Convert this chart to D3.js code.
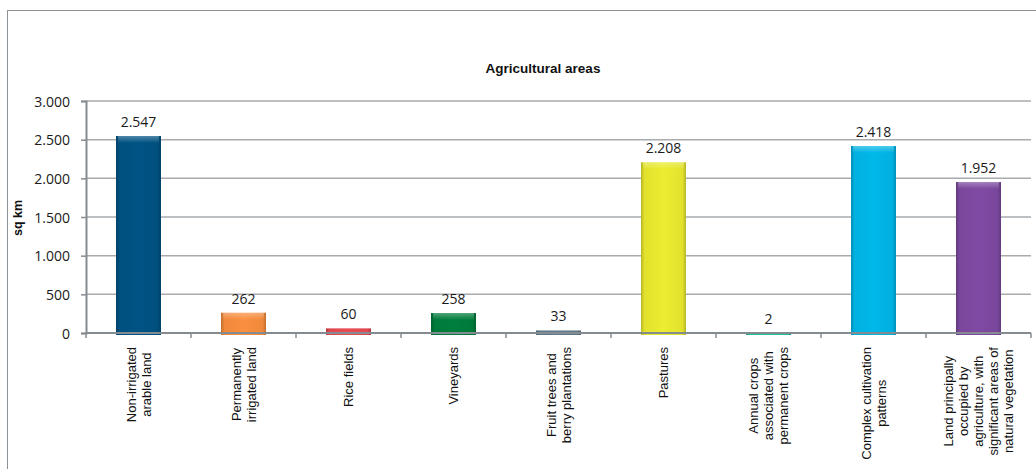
<!DOCTYPE html>
<html><head><meta charset="utf-8">
<script src="https://cdn.jsdelivr.net/npm/d3@7/dist/d3.min.js"></script>
<style>
html,body{margin:0;padding:0;background:#fff;}
svg{display:block;}
</style></head>
<body>
<svg id="chart" width="1036" height="469"></svg>
<script>
const categories = [
  ["Non-irrigated","arable land"],
  ["Permanently","irrigated land"],
  ["Rice fields"],
  ["Vineyards"],
  ["Fruit trees and","berry plantations"],
  ["Pastures"],
  ["Annual crops","associated with","permanent crops"],
  ["Complex cultivation","patterns"],
  ["Land principally","occupied by","agriculture, with","significant areas of","natural vegetation"]
];
const values = [2547, 262, 60, 258, 33, 2208, 2, 2418, 1952];
const colors = ["#00507f","#f0893c","#e0474f","#007a3a","#5c7686","#e2e22e","#1dbf9e","#00b0e0","#7a479c"];
const yTicks = [0, 500, 1000, 1500, 2000, 2500, 3000];
const title = "Agricultural areas";
const yTitle = "sq km";

(function () {
const svg = d3.select("#chart");
const fmt = v => d3.format(",")(v).replace(/,/g, ".");

// outer frame
svg.append("rect").attr("x",7.5).attr("y",10.5).attr("width",1040).attr("height",470)
  .attr("fill","#fff").attr("stroke","#8c9499").attr("stroke-width",1);

const pLeft = 86, pRight = 1031, pTop = 101, pBottom = 333;
const x = d3.scaleBand().domain(d3.range(categories.length)).range([pLeft, pRight]).paddingInner(0).paddingOuter(0);
const y = d3.scaleLinear().domain([0, 3000]).range([pBottom, pTop]);

// gridlines
svg.append("g").selectAll("line").data(yTicks.filter(t => t > 0)).join("line")
  .attr("x1", pLeft).attr("x2", pRight)
  .attr("y1", d => y(d)).attr("y2", d => y(d))
  .attr("stroke", "#a7abae").attr("stroke-width", 1.5);

// gradients
const defs = svg.append("defs");
colors.forEach((c, i) => {
  const g = defs.append("linearGradient").attr("id", "grad" + i).attr("x1", "0").attr("x2", "1").attr("y1", "0").attr("y2", "0");
  const dark = d3.color(c).darker(0.6);
  const light = d3.color(c).brighter(0.12);
  g.append("stop").attr("offset", "0%").attr("stop-color", dark);
  g.append("stop").attr("offset", "8%").attr("stop-color", c);
  g.append("stop").attr("offset", "50%").attr("stop-color", light);
  g.append("stop").attr("offset", "92%").attr("stop-color", c);
  g.append("stop").attr("offset", "100%").attr("stop-color", dark);
});
const hg = defs.append("linearGradient").attr("id", "hl").attr("x1", "0").attr("x2", "0").attr("y1", "0").attr("y2", "1");
hg.append("stop").attr("offset", "0%").attr("stop-color", "#fff").attr("stop-opacity", 0.3);
hg.append("stop").attr("offset", "100%").attr("stop-color", "#fff").attr("stop-opacity", 0);

const barW = 45;
const bars = svg.append("g");
bars.selectAll("rect.bar").data(values).join("rect")
  .attr("class", "bar")
  .attr("x", (d, i) => x(i) + x.bandwidth() / 2 - barW / 2)
  .attr("y", d => y(d))
  .attr("width", barW)
  .attr("height", d => pBottom - y(d) + 2)
  .attr("fill", (d, i) => `url(#grad${i})`);
bars.selectAll("rect.hl").data(values.filter(v => y(0) - y(v) > 8)).join("rect")
  .attr("class", "hl")
  .attr("x", d => x(values.indexOf(d)) + x.bandwidth() / 2 - barW / 2 + 2)
  .attr("y", d => y(d))
  .attr("width", barW - 4)
  .attr("height", 7)
  .attr("fill", "url(#hl)");

// axes
const yAxis = d3.axisLeft(y).tickValues(yTicks).tickSize(5).tickFormat(fmt);
const gy = svg.append("g").attr("transform", `translate(${pLeft},0)`).call(yAxis);
gy.select(".domain").attr("stroke", "#858c91").attr("stroke-width", 2);
gy.selectAll(".tick line").attr("stroke", "#858c91").attr("stroke-width", 1.5);
gy.selectAll(".tick text").attr("x", -16).attr("dy", "0.36em")
  .style("font-family", "'Open Sans', 'Noto Sans', sans-serif").style("font-size", "14px").attr("fill", "#1a1a1a");

const xTicksPos = d3.range(categories.length + 1).map(i => pLeft + i * x.step());
const xg = svg.append("g");
xg.append("line").attr("x1", pLeft).attr("x2", pRight).attr("y1", pBottom).attr("y2", pBottom)
  .attr("stroke", "#858c91").attr("stroke-width", 2);
xg.selectAll("line.t").data(xTicksPos).join("line").attr("class", "t")
  .attr("x1", d => d).attr("x2", d => d).attr("y1", pBottom).attr("y2", pBottom + 5)
  .attr("stroke", "#858c91").attr("stroke-width", 1.5);

// value labels
svg.append("g").selectAll("text").data(values).join("text")
  .attr("x", (d, i) => x(i) + x.bandwidth() / 2)
  .attr("y", d => y(d) - 9)
  .attr("text-anchor", "middle")
  .style("font-family", "'Open Sans', 'Noto Sans', sans-serif").style("font-size", "14px")
  .attr("fill", "#1a1a1a")
  .text(fmt);

// category labels
const labTop = 347, lineH = 15;
categories.forEach((lines, i) => {
  const g = svg.append("g").attr("transform", `translate(${x(i) + x.bandwidth() / 2},${labTop}) rotate(-90)`);
  const texts = lines.map((l, j) => g.append("text")
    .attr("y", (j - (lines.length - 1) / 2) * lineH + 4.5)
    .attr("text-anchor", "middle")
    .style("font-family", "'Liberation Sans', Arial, sans-serif").style("font-size", "13px")
    .attr("fill", "#111")
    .text(l));
  const maxW = d3.max(texts, t => t.node().getComputedTextLength());
  texts.forEach(t => t.attr("x", -maxW / 2));
});

// title
svg.append("text").attr("x", 543).attr("y", 73).attr("text-anchor", "middle")
  .style("font-family", "'Liberation Sans', Arial, sans-serif").style("font-size", "13.5px").style("font-weight", "bold")
  .attr("fill", "#111").text(title);

// y title
svg.append("text").attr("transform", `translate(22,218) rotate(-90)`).attr("text-anchor", "middle")
  .style("font-family", "'Liberation Sans', Arial, sans-serif").style("font-size", "12.5px").style("font-weight", "bold")
  .attr("fill", "#111").text(yTitle);
})();
</script>
</body></html>
